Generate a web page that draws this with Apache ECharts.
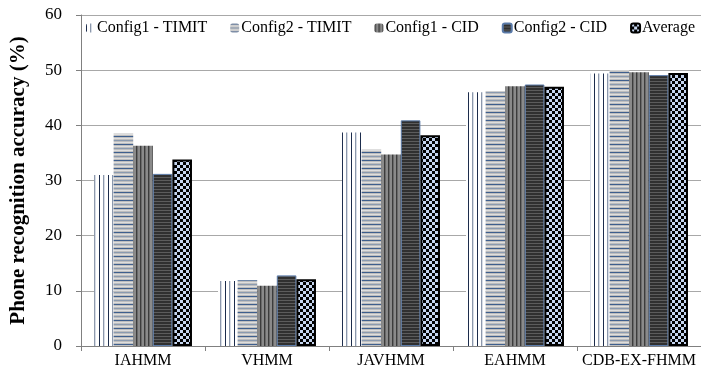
<!DOCTYPE html>
<html><head><meta charset="utf-8">
<script src="https://cdn.jsdelivr.net/npm/echarts@6/dist/echarts.min.js"></script>
<style>html,body{margin:0;padding:0;background:#fff}#c{width:701px;height:369px}</style>
</head><body><div id="c"></div>
<script>
const categories = ['IAHMM', 'VHMM', 'JAVHMM', 'EAHMM', 'CDB-EX-FHMM'];
const seriesNames = ['Config1 - TIMIT', 'Config2 - TIMIT', 'Config1 - CID', 'Config2 - CID', 'Average'];
const config1Timit = [31.0, 11.8, 38.7, 46.0, 49.4];
const config2Timit = [38.5, 11.9, 35.6, 46.2, 50.0];
const config1Cid   = [36.3, 10.9, 34.7, 47.1, 49.6];
const config2Cid   = [31.2, 12.8, 40.9, 47.4, 49.1];
const average      = [33.8, 12.1, 38.2, 47.0, 49.5];
const yTicks = [0, 10, 20, 30, 40, 50, 60];

function tile(w, h, draw) {
  const c = document.createElement('canvas');
  c.width = w; c.height = h;
  const g = c.getContext('2d');
  draw(g);
  return { image: c, repeat: 'repeat' };
}
const pVert = tile(9, 4, g => {
  g.fillStyle = '#ffffff'; g.fillRect(0, 0, 9, 4);
  g.fillStyle = '#1c2c4c'; g.fillRect(0, 0, 1, 4);
  g.fillStyle = '#8c98ac'; g.fillRect(4, 0, 1, 4);
  g.fillStyle = '#d8dde6'; g.fillRect(5, 0, 1, 4);
});
const pHoriz = tile(4, 8, g => {
  g.fillStyle = '#bebebe'; g.fillRect(0, 0, 4, 8);
  g.fillStyle = '#3e5f8e'; g.fillRect(0, 0, 4, 1);
  g.fillStyle = '#dedede'; g.fillRect(0, 2, 4, 1);
  g.fillStyle = '#8a9ab0'; g.fillRect(0, 4, 4, 1);
  g.fillStyle = '#dedede'; g.fillRect(0, 6, 4, 1);
});
const pDarkVert = tile(4, 4, g => {
  g.fillStyle = '#8a8a8a'; g.fillRect(0, 0, 4, 4);
  g.fillStyle = '#3c3c3c'; g.fillRect(0, 0, 1, 4);
  g.fillStyle = '#6a6a6a'; g.fillRect(1, 0, 1, 4);
});
const pDarkHoriz = tile(4, 3, g => {
  g.fillStyle = '#303030'; g.fillRect(0, 0, 4, 3);
  g.fillStyle = '#5c5c5c'; g.fillRect(0, 0, 4, 1);
});
const pChecker = tile(6, 6, g => {
  g.fillStyle = '#000000'; g.fillRect(0, 0, 6, 6);
  g.fillStyle = '#c6d6f0'; g.fillRect(0, 0, 3, 3); g.fillRect(3, 3, 3, 3);
});

const styles = [
  { color: pVert, borderWidth: 0 },
  { color: pHoriz, borderWidth: 0 },
  { color: pDarkVert, borderWidth: 0 },
  { color: pDarkHoriz, borderColor: '#5a7aa8', borderWidth: 1 },
  { color: pChecker, borderColor: '#000000', borderWidth: 2 }
];
const dataSets = [config1Timit, config2Timit, config1Cid, config2Cid, average];
const serif = '"Liberation Serif", "Times New Roman", serif';

const chart = echarts.init(document.getElementById('c'), null, { renderer: 'canvas' });
chart.setOption({
  animation: false,
  backgroundColor: '#ffffff',
  textStyle: { fontFamily: serif },
  grid: { left: 77, right: 0, top: 15, bottom: 21, containLabel: false },
  legend: {
    top: 20, left: 86, width: 615, padding: 0, itemWidth: 9, itemHeight: 9, itemGap: 23,
    textStyle: { fontFamily: serif, fontSize: 16, color: '#000', padding: [0, 0, 0, -3] },
    data: seriesNames
  },
  xAxis: {
    type: 'category', data: categories,
    axisLine: { lineStyle: { color: '#808080', width: 1 } },
    axisTick: { show: true, alignWithLabel: false, length: 5, lineStyle: { color: '#808080' } },
    axisLabel: { interval: 0, color: '#000', fontSize: 16, margin: 7, fontFamily: serif }
  },
  yAxis: {
    type: 'value', min: yTicks[0], max: yTicks[yTicks.length - 1], interval: 10,
    name: 'Phone recognition accuracy (%)', nameLocation: 'middle', nameGap: 52,
    nameTextStyle: { fontFamily: serif, fontSize: 21, fontWeight: 'bold', color: '#000' },
    axisLine: { show: true, lineStyle: { color: '#808080', width: 1 } },
    axisTick: { show: true, length: 5, lineStyle: { color: '#808080' } },
    axisLabel: { color: '#000', fontSize: 17, margin: 19, fontFamily: serif },
    splitLine: { lineStyle: { color: '#a8a8a8', width: 1 } }
  },
  series: seriesNames.map((n, i) => ({
    name: n, type: 'bar', data: dataSets[i],
    barGap: '0%', barCategoryGap: '21%',
    itemStyle: styles[i]
  }))
});
</script></body></html>
